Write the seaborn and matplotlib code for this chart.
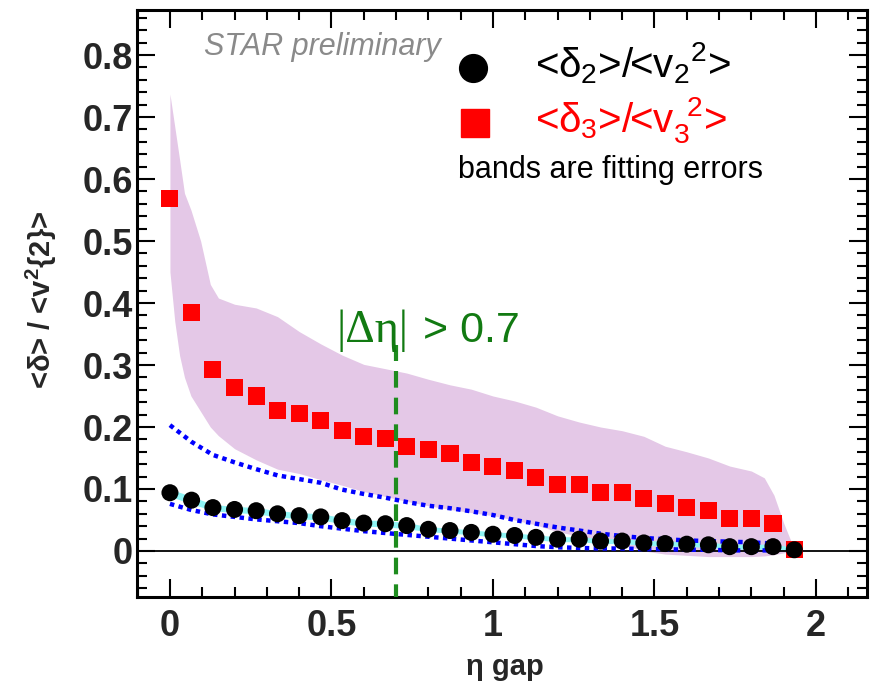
import numpy as np
import pandas as pd
import matplotlib
matplotlib.use("Agg")
import matplotlib.pyplot as plt
import seaborn as sns

# ---------------- data ----------------
eta_gap = [0.000, 0.067, 0.133, 0.200, 0.267, 0.333, 0.400, 0.467, 0.533, 0.600,
           0.667, 0.733, 0.800, 0.867, 0.933, 1.000, 1.067, 1.133, 1.200, 1.267,
           1.333, 1.400, 1.467, 1.533, 1.600, 1.667, 1.733, 1.800, 1.867, 1.933]

delta3_ratio = [0.568, 0.384, 0.292, 0.263, 0.250, 0.227, 0.221, 0.210, 0.195, 0.185,
                0.182, 0.169, 0.163, 0.158, 0.142, 0.137, 0.130, 0.118, 0.107, 0.107,
                0.095, 0.095, 0.085, 0.076, 0.070, 0.065, 0.053, 0.053, 0.044, 0.003]

delta2_ratio = [0.094, 0.082, 0.070, 0.067, 0.065, 0.060, 0.057, 0.055, 0.049, 0.045,
                0.044, 0.041, 0.035, 0.033, 0.030, 0.027, 0.025, 0.022, 0.019, 0.019,
                0.016, 0.016, 0.013, 0.012, 0.011, 0.010, 0.007, 0.007, 0.007, 0.002]

delta2_stat_err = [0.007, 0.007, 0.007, 0.007, 0.007, 0.007, 0.007, 0.007, 0.007, 0.007,
                   0.007, 0.007, 0.007, 0.007, 0.007, 0.007, 0.007, 0.007, 0.007, 0.007,
                   0.007, 0.007, 0.007, 0.007, 0.007, 0.007, 0.007, 0.007, 0.007, 0.007]

delta2_fit_err = [0.006, 0.006, 0.005, 0.005, 0.005, 0.005, 0.005, 0.005, 0.005, 0.005,
                  0.005, 0.005, 0.004, 0.004, 0.004, 0.004, 0.004, 0.004, 0.004, 0.004,
                  0.004, 0.004, 0.004, 0.004, 0.004, 0.004, 0.004, 0.004, 0.004, 0.004]

# blue dotted curves (on the first 29 eta-gap values)
blue_upper = [0.203, 0.176, 0.155, 0.143, 0.132, 0.122, 0.116, 0.110, 0.099, 0.092,
              0.086, 0.079, 0.073, 0.069, 0.064, 0.058, 0.050, 0.044, 0.038, 0.033,
              0.028, 0.024, 0.021, 0.019, 0.017, 0.016, 0.015, 0.014, 0.012]
blue_lower = [0.076, 0.066, 0.059, 0.055, 0.051, 0.048, 0.045, 0.040, 0.036, 0.032,
              0.029, 0.026, 0.023, 0.020, 0.017, 0.014, 0.011, 0.008, 0.006, 0.005,
              0.004, 0.004, 0.003, 0.003, 0.002, 0.002, 0.001, 0.001, 0.001]

# purple fitting-error band of <d3>/<v3^2>
band_x = [0.000, 0.015, 0.030, 0.045, 0.065, 0.095, 0.125, 0.150, 0.200, 0.267,
          0.333, 0.400, 0.467, 0.533, 0.600, 0.667, 0.733, 0.800, 0.867, 0.933,
          1.000, 1.067, 1.133, 1.200, 1.267, 1.333, 1.400, 1.467, 1.533, 1.600,
          1.667, 1.733, 1.800, 1.840, 1.870, 1.900, 1.935]
band_hi = [0.737, 0.684, 0.631, 0.577, 0.550, 0.500, 0.430, 0.408, 0.398, 0.392,
           0.378, 0.354, 0.334, 0.316, 0.301, 0.294, 0.287, 0.277, 0.268, 0.261,
           0.250, 0.242, 0.232, 0.218, 0.208, 0.200, 0.194, 0.185, 0.169, 0.160,
           0.150, 0.137, 0.129, 0.118, 0.090, 0.045, 0.000]
band_lo = [0.450, 0.370, 0.315, 0.280, 0.250, 0.225, 0.200, 0.186, 0.165, 0.147,
           0.132, 0.125, 0.115, 0.106, 0.096, 0.088, 0.080, 0.073, 0.067, 0.062,
           0.057, 0.050, 0.042, 0.031, 0.024, 0.018, 0.010, 0.000, -0.005, -0.007,
           -0.009, -0.009, -0.009, -0.008, -0.006, -0.003, 0.000]

gap_cut = 0.7
cut_line_top = 0.332

x_ticks = [0, 0.5, 1, 1.5, 2]
x_tick_labels = ["0", "0.5", "1", "1.5", "2"]
y_ticks = [0, 0.1, 0.2, 0.3, 0.4, 0.5, 0.6, 0.7, 0.8]
y_tick_labels = ["0", "0.1", "0.2", "0.3", "0.4", "0.5", "0.6", "0.7", "0.8"]

# ---------------- style ----------------
sns.set_style("white")
plt.rcParams["font.family"] = ["Liberation Sans", "DejaVu Sans"]
plt.rcParams["mathtext.fontset"] = "custom"
plt.rcParams["mathtext.rm"] = "Liberation Sans"
plt.rcParams["mathtext.it"] = "Liberation Sans"
plt.rcParams["mathtext.bf"] = "Liberation Sans:bold"

W, H = 883, 685
fig = plt.figure(figsize=(W / 100, H / 100), dpi=100)
L, R, T, B = 137, 867, 10, 597
ax = fig.add_axes([L / W, 1 - B / H, (R - L) / W, (B - T) / H])

df2 = pd.DataFrame({"eta": eta_gap, "r": delta2_ratio,
                    "lo": np.array(delta2_ratio) - np.array(delta2_fit_err),
                    "hi": np.array(delta2_ratio) + np.array(delta2_fit_err)})
df3 = pd.DataFrame({"eta": eta_gap, "r": delta3_ratio})
dfb = pd.DataFrame({"eta": eta_gap[:29], "up": blue_upper, "lo": blue_lower})

# purple band
ax.fill_between(band_x, band_lo, band_hi, color="#e4c8e7", lw=0, zorder=1)

# blue dotted curves
sns.lineplot(data=dfb, x="eta", y="up", ax=ax, color="#0000ff", lw=3.2,
             linestyle=(0, (1, 1.0)), zorder=3)
sns.lineplot(data=dfb, x="eta", y="lo", ax=ax, color="#0000ff", lw=3.2,
             linestyle=(0, (1, 1.0)), zorder=3)

# cyan fitting band of delta2
ax.fill_between(df2["eta"], df2["lo"], df2["hi"], color="#8ff5f5", lw=0, zorder=2)

# zero line
ax.axhline(0, color="black", lw=1.3, zorder=2)

# red squares
sns.scatterplot(data=df3, x="eta", y="r", ax=ax, marker="s", color="#ff0000",
                s=150, edgecolor="none", linewidth=0, zorder=4, legend=False)

# black circles with error bars
ax.errorbar(eta_gap, delta2_ratio, yerr=delta2_stat_err, fmt="none",
            ecolor="black", elinewidth=1.5, zorder=5)
sns.scatterplot(data=df2, x="eta", y="r", ax=ax, marker="o", color="black",
                s=150, edgecolor="none", linewidth=0, zorder=6, legend=False)

# green cut line
ax.vlines(gap_cut, -0.08, cut_line_top, colors="#1e8c1e", lw=3,
          linestyles=[(0, (4, 2.4))], zorder=7)

ax.set_xlim(-0.102, 2.158)
ax.set_ylim(-0.0742, 0.8726)

# ticks
ax.set_xticks(x_ticks)
ax.set_xticklabels(x_tick_labels)
ax.set_yticks(y_ticks)
ax.set_yticklabels(y_tick_labels)
ax.set_xticks(np.arange(-0.1, 2.16, 0.1), minor=True)
ax.set_yticks(np.arange(-0.06, 0.87, 0.02), minor=True)
ax.tick_params(which="both", direction="in", top=True, right=True,
               bottom=True, left=True, width=1.5, color="black")
ax.tick_params(which="major", length=13)
ax.tick_params(which="minor", length=7)
ax.tick_params(axis="x", which="major", pad=9)
ax.tick_params(axis="y", which="major", pad=3)
for lab in ax.get_xticklabels() + ax.get_yticklabels():
    lab.set_fontsize(26)
    lab.set_fontweight("bold")
for sp in ax.spines.values():
    sp.set_linewidth(2.2)
    sp.set_color("black")

# axis labels
ax.set_xlabel("η gap", fontsize=21, fontweight="bold")
ax.xaxis.label.set_va("center")
ax.xaxis.set_label_coords((505 - L) / (R - L), (B - 667) / (B - T))
ax.set_ylabel(r"<δ> / <v$^{\mathbf{2}}${2}>", fontsize=21, fontweight="bold")
ax.yaxis.label.set_va("center")
ax.yaxis.set_label_coords((41 - L) / (R - L), (B - 300) / (B - T))

def axpos(px, py):
    return (px - L) / (R - L), (B - py) / (B - T)

# texts
ax.text(*axpos(204, 55), "STAR preliminary", transform=ax.transAxes,
        fontsize=22, style="italic", color="#8a8a8a", va="baseline", ha="left")
ax.text(*axpos(336, 342), "|Δη|", transform=ax.transAxes, fontsize=33,
        family=["Liberation Serif", "DejaVu Serif"], color="#127a12",
        va="baseline", ha="left", zorder=8)
ax.text(*axpos(423, 342), "> 0.7", transform=ax.transAxes, fontsize=31,
        color="#127a12", va="baseline", ha="left", zorder=8)

# legend
ax.plot(*axpos(473, 68), marker="o", ms=20, color="black", transform=ax.transAxes,
        clip_on=False, zorder=9)
ax.plot(*axpos(475, 123), marker="s", ms=20, color="#ff0000", transform=ax.transAxes,
        clip_on=False, zorder=9)
ax.text(*axpos(535, 77), r"<$\delta_2$>/<v$_2{}^2$>", transform=ax.transAxes,
        fontsize=29, color="black", va="baseline", ha="left")
ax.text(*axpos(535, 132), r"<$\delta_3$>/<v$_{3}^{\;\;2}$>", transform=ax.transAxes,
        fontsize=29, color="#ff0000", va="baseline", ha="left")
ax.text(*axpos(458, 178), "bands are fitting errors", transform=ax.transAxes,
        fontsize=22, color="black", va="baseline", ha="left")

fig.savefig("out.png", dpi=100)
